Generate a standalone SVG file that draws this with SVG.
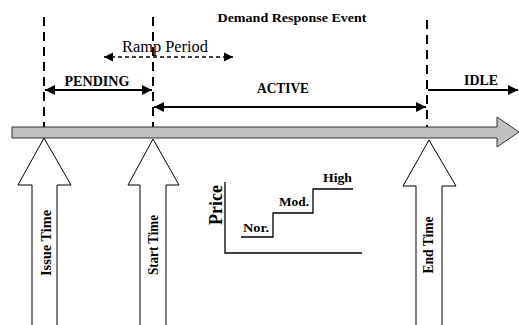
<svg xmlns="http://www.w3.org/2000/svg" width="519" height="325" viewBox="0 0 519 325">
<defs>
<style>
.t{font-family:"Liberation Serif","Times New Roman",serif;font-weight:bold;fill:#000}
.r{font-family:"Liberation Serif","Times New Roman",serif;fill:#000}
.dash{stroke:#000;stroke-width:2;stroke-dasharray:9,6;fill:none}
.ln{stroke:#000;stroke-width:2;fill:none}
.thin{stroke:#000;stroke-width:1.3;fill:none}
.up{fill:#fff;stroke:#000;stroke-width:1}
</style>
<marker id="ah" viewBox="0 0 10 10" refX="10" refY="5" markerWidth="5" markerHeight="5" orient="auto-start-reverse" markerUnits="strokeWidth">
<path d="M0,0 L10,5 L0,10 Z" fill="#000"/>
</marker>
<marker id="ahs" viewBox="0 0 10 10" refX="10" refY="5" markerWidth="7" markerHeight="7" orient="auto-start-reverse" markerUnits="strokeWidth">
<path d="M0,0 L10,5 L0,10 Z" fill="#000"/>
</marker>
</defs>
<rect width="519" height="325" fill="#fff"/>
<text class="t" x="292" y="22" font-size="12" text-anchor="middle" textLength="149" lengthAdjust="spacingAndGlyphs">Demand Response Event</text>
<g id="connectors">
<line class="dash" x1="44" y1="17" x2="44" y2="127"/>
<line class="dash" x1="153" y1="17" x2="153" y2="127"/>
<line class="dash" x1="427" y1="20" x2="427" y2="127"/>
<line class="ln" x1="45" y1="90" x2="152" y2="90" marker-start="url(#ah)" marker-end="url(#ah)"/>
<line class="ln" x1="154" y1="107" x2="426" y2="107" marker-start="url(#ah)" marker-end="url(#ah)"/>
<line class="ln" x1="428" y1="90" x2="518" y2="90" marker-end="url(#ah)"/>
<line stroke="#000" stroke-width="1.3" stroke-dasharray="4,3" x1="104" y1="57" x2="233" y2="57" marker-start="url(#ahs)" marker-end="url(#ahs)"/>
</g>
<g id="labels">
<text class="t" x="97" y="86" font-size="15" text-anchor="middle" textLength="65" lengthAdjust="spacingAndGlyphs">PENDING</text>
<text class="t" x="283" y="93" font-size="15" text-anchor="middle" textLength="52" lengthAdjust="spacingAndGlyphs">ACTIVE</text>
<text class="t" x="481" y="85" font-size="15" text-anchor="middle" textLength="34" lengthAdjust="spacingAndGlyphs">IDLE</text>
<text class="r" x="165" y="52" font-size="16" text-anchor="middle" textLength="86" lengthAdjust="spacingAndGlyphs">Ramp Period</text>
</g>
<g id="timeline">
<polygon points="12,127 497,127 497,117 519,132 497,147 497,138 12,138" fill="#c0c0c0" stroke="#333" stroke-width="1"/>
</g>
<g id="issue-time">
<polygon class="up" points="44,138 71,185 57,185 57,326 32,326 32,185 18,185"/>
<text class="t" transform="translate(51,243) rotate(-90)" font-size="14" text-anchor="middle" textLength="66" lengthAdjust="spacingAndGlyphs">Issue Time</text>
</g>
<g id="start-time">
<polygon class="up" points="153,139 179,185 166,185 166,326 140,326 140,185 128,185"/>
<text class="t" transform="translate(158,245) rotate(-90)" font-size="14" text-anchor="middle" textLength="60" lengthAdjust="spacingAndGlyphs">Start Time</text>
</g>
<g id="end-time">
<polygon class="up" points="429,140 456,186 442,186 442,326 416,326 416,186 403,186"/>
<text class="t" transform="translate(433,245) rotate(-90)" font-size="14" text-anchor="middle" textLength="57" lengthAdjust="spacingAndGlyphs">End Time</text>
</g>
<g id="price-chart">
<polyline class="thin" points="225,182 225,253 362,253"/>
<polyline class="thin" points="241,237 273,237 273,213 313,213 313,189 353,189"/>
<text class="t" transform="translate(222,205) rotate(-90)" font-size="19" text-anchor="middle" textLength="40" lengthAdjust="spacingAndGlyphs">Price</text>
<text class="t" x="243" y="232" font-size="12" textLength="26" lengthAdjust="spacingAndGlyphs">Nor.</text>
<text class="t" x="279" y="206" font-size="12" textLength="30" lengthAdjust="spacingAndGlyphs">Mod.</text>
<text class="t" x="323" y="182" font-size="12" textLength="29" lengthAdjust="spacingAndGlyphs">High</text>
</g>
</svg>
